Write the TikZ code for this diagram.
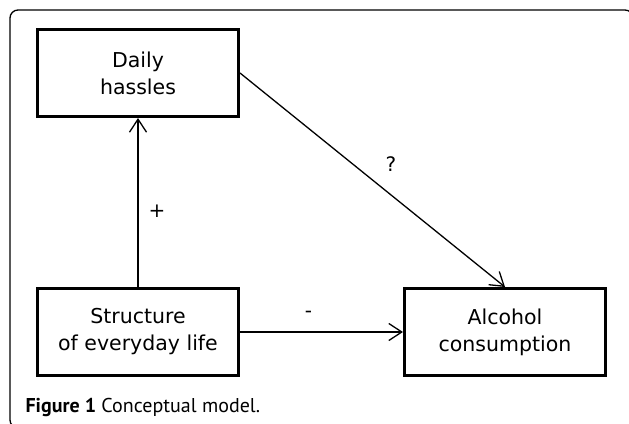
\documentclass[tikz,border=0pt]{standalone}
\usepackage{fontspec}
\setsansfont{DejaVu Sans}
\newfontfamily\capfont{PT Sans}
\usetikzlibrary{arrows.meta}

\begin{document}
\begin{tikzpicture}[x=1pt,y=-1pt,
  factor/.style={draw,line width=3pt,minimum width=201pt,minimum height=87pt,
    align=center,font=\sffamily\fontsize{20.5}{27}\selectfont},
  link/.style={line width=1.3pt,-{Straight Barb[length=13pt,width=17pt,line width=1.3pt]}},
  sign/.style={font=\sffamily\fontsize{20}{20}\selectfont}]
\useasboundingbox (0,0) rectangle (629,423);
% outer frame, cut by the page
\begin{scope}
\clip (0,0) rectangle (629,423);
\draw[line width=1.3pt,rounded corners=8pt] (10,10) rectangle (633,428);
\end{scope}
\node[factor] (hassles) at (138,73) {Daily\\hassles};
\node[factor] (structure) at (138,332) {Structure\\of everyday life};
\node[factor] (alcohol) at (505,332) {Alcohol\\consumption};
\draw[link] (structure) -- (hassles)
  node[sign,pos=0.45,xshift=19pt] (plus) {+};
\draw[link] (structure) -- (alcohol)
  node[sign,pos=0.42,yshift=18pt] (minus) {-};
\draw[link] (hassles.east) -- (alcohol.north)
  node[sign,pos=0.57,yshift=31pt] (query) {?};
\node[anchor=base west,font=\capfont\fontsize{20}{20}\selectfont] (caption) at (22,412)
  {\textbf{Figure 1} Conceptual model.};
\end{tikzpicture}
\end{document}
